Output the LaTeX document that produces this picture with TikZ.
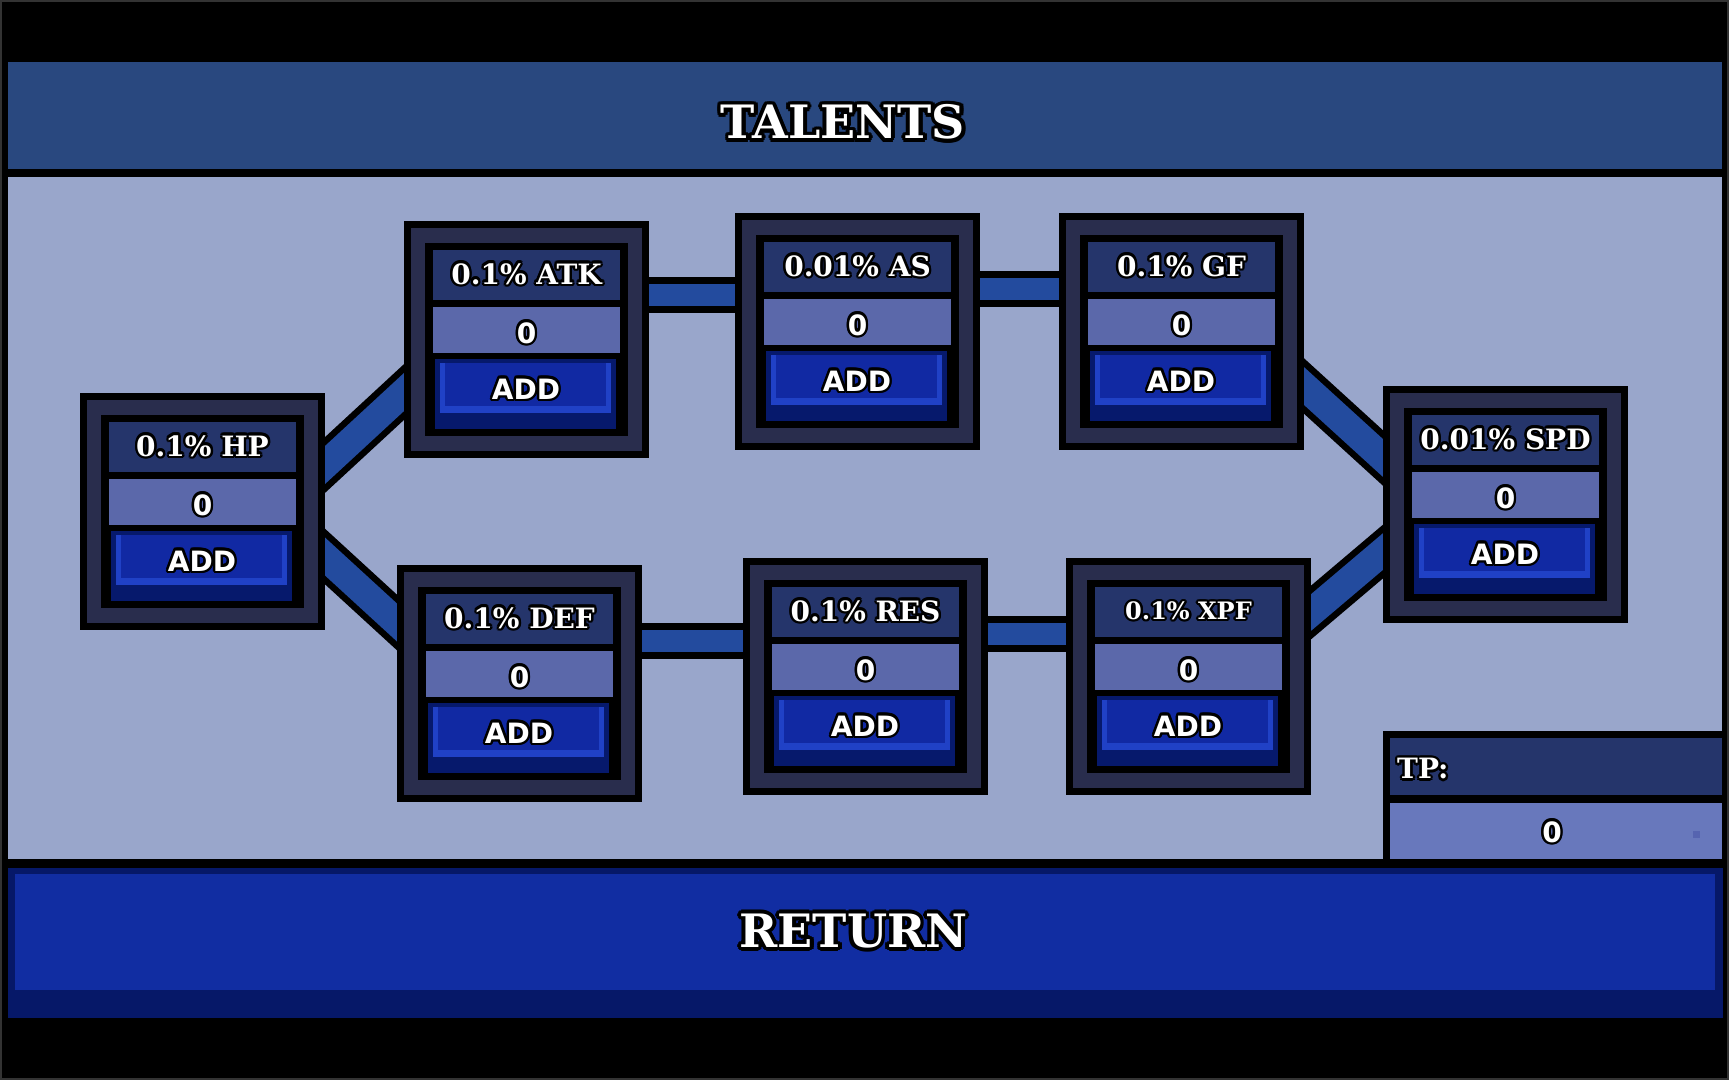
\documentclass[tikz,border=0pt]{standalone}
\usepackage{fontspec}
\usepackage[copies]{contour}
\usetikzlibrary{calc}
\newfontfamily\pixserif{DejaVu Serif}
\newfontfamily\pixsans{DejaVu Sans}
\definecolor{hdr}{HTML}{29487F}
\definecolor{pane}{HTML}{99A6CB}
\definecolor{frm}{HTML}{292D4D}
\definecolor{ttl}{HTML}{25356B}
\definecolor{valc}{HTML}{5B68AA}
\definecolor{bdark}{HTML}{06196C}
\definecolor{bface}{HTML}{1129A3}
\definecolor{bhi}{HTML}{2041C6}
\definecolor{linkc}{HTML}{234B9E}
\definecolor{retface}{HTML}{112DA2}
\definecolor{retdark}{HTML}{061868}
\definecolor{tpval}{HTML}{6878BC}
\definecolor{tpdot}{HTML}{5664B0}
\contournumber{12}
\pgfdeclarelayer{bottom}
\pgfdeclarelayer{links}
\pgfsetlayers{bottom,links,main}
\newcommand\ot[2]{{\contourlength{#1}\contour{black}{#2}}}
\tikzset{
  talentbox/.style={fill=black, draw=none, inner sep=0pt, outer sep=0pt,
    minimum width=245pt, minimum height=237pt, anchor=north west},
  lbl/.style={text=white, inner sep=0pt, font={\pixserif\bfseries\fontsize{28pt}{28pt}\selectfont}},
  smalllbl/.style={text=white, inner sep=0pt, font={\pixserif\bfseries\fontsize{24pt}{24pt}\selectfont}},
  numlbl/.style={text=white, inner sep=0pt, font={\pixsans\bfseries\fontsize{28pt}{28pt}\selectfont}},
  biglbl/.style={text=white, inner sep=0pt, font={\pixserif\bfseries\fontsize{46pt}{46pt}\selectfont}},
}
\newcommand\talent[5]{% name, x, y, label, label style
  \begin{scope}[shift={(#2,#3)}]
    \node[talentbox] (#1) at (0,0) {};
    \fill[frm] (7,7) rectangle (238,230);
    \fill[black] (21,22) rectangle (224,215);
    \fill[ttl] (29,29) rectangle (216,79);
    \fill[valc] (29,86) rectangle (216,132);
    \fill[bdark] (31,138) rectangle (212,208);
    \fill[bhi] (36,142) rectangle (207,192);
    \fill[bface] (41,142) rectangle (202,185);
    \node[#5] (#1-t) at (122.5,54) {\ot{2.4pt}{#4}};
    \node[numlbl] (#1-v) at (122.5,113) {\ot{2.4pt}{0}};
    \node[numlbl] (#1-b) at (122,169) {\ot{2.4pt}{ADD}};
  \end{scope}}
\newcommand\linkit[4]{% from, to, outer width, inner width
  \draw[black, line width=#3] ($(#1)!-0.3!(#2)$) -- ($(#2)!-0.3!(#1)$);
  \draw[linkc, line width=#4] ($(#1)!-0.3!(#2)$) -- ($(#2)!-0.3!(#1)$);}
\begin{document}
\begin{tikzpicture}[x=1pt, y=-1pt]
  \useasboundingbox (0,0) rectangle (1729,1080);
  \begin{pgfonlayer}{bottom}
    \fill[black] (0,0) rectangle (1729,1080);
    \draw[black!80!white, line width=2pt] (1,1) rectangle (1728,1079);
    \fill[hdr] (8,62) rectangle (1722,169);
    \fill[pane] (8,177) rectangle (1722,859);
    \fill[retdark] (8,868) rectangle (1723,1018);
    \fill[retface] (15,874) rectangle (1715,990);
    \fill[black] (1383,731) rectangle (1722,859);
    \fill[ttl] (1390,738) rectangle (1722,795);
    \fill[tpval] (1390,803) rectangle (1722,859);
    \fill[tpdot] (1693,831) rectangle (1700,838);
  \end{pgfonlayer}

  \node[biglbl] (title) at (843,124) {\ot{3.8pt}{TALENTS}};
  \node[biglbl] (ret) at (853.5,933) {\ot{3.8pt}{RETURN}};
  \node[lbl, anchor=west] (tp) at (1397,770) {\ot{2.4pt}{TP:}};
  \node[numlbl] (tpv) at (1552,833) {\ot{2.4pt}{0}};

  \talent{hp}{80}{393}{0.1\% HP}{lbl}
  \talent{atk}{404}{221}{0.1\% ATK}{lbl}
  \talent{as}{735}{213}{0.01\% AS}{lbl}
  \talent{gf}{1059}{213}{0.1\% GF}{lbl}
  \talent{spd}{1383}{386}{0.01\% SPD}{lbl}
  \talent{def}{397}{565}{0.1\% DEF}{lbl}
  \talent{res}{743}{558}{0.1\% RES}{lbl}
  \talent{xpf}{1066}{558}{0.1\% XPF}{smalllbl}

  \coordinate (hpA) at ($(hp.north east)+(0,72)$);
  \coordinate (hpB) at ($(hp.north east)+(0,163.5)$);
  \coordinate (atkA) at ($(atk.north west)+(0,171)$);
  \coordinate (atkB) at ($(atk.north east)+(0,74)$);
  \coordinate (asA) at ($(as.north west)+(0,82)$);
  \coordinate (asB) at ($(as.north east)+(0,76)$);
  \coordinate (gfA) at ($(gf.north west)+(0,76)$);
  \coordinate (gfB) at ($(gf.north east)+(0,173)$);
  \coordinate (spdA) at ($(spd.north west)+(0,72)$);
  \coordinate (spdB) at ($(spd.north west)+(0,165.5)$);
  \coordinate (defA) at ($(def.north west)+(0,57.5)$);
  \coordinate (defB) at ($(def.north east)+(0,76)$);
  \coordinate (resA) at ($(res.north west)+(0,83)$);
  \coordinate (resB) at ($(res.north east)+(0,76)$);
  \coordinate (xpfA) at ($(xpf.north west)+(0,76)$);
  \coordinate (xpfB) at ($(xpf.north east)+(0,54.5)$);

  \begin{pgfonlayer}{links}
    \linkit{hpA}{atkA}{41pt}{28pt}
    \linkit{hpB}{defA}{41pt}{28pt}
    \linkit{atkB}{asA}{36pt}{22pt}
    \linkit{asB}{gfA}{36pt}{22pt}
    \linkit{gfB}{spdA}{41pt}{28pt}
    \linkit{defB}{resA}{36pt}{22pt}
    \linkit{resB}{xpfA}{36pt}{22pt}
    \linkit{xpfB}{spdB}{41pt}{28pt}
  \end{pgfonlayer}
\end{tikzpicture}
\end{document}
